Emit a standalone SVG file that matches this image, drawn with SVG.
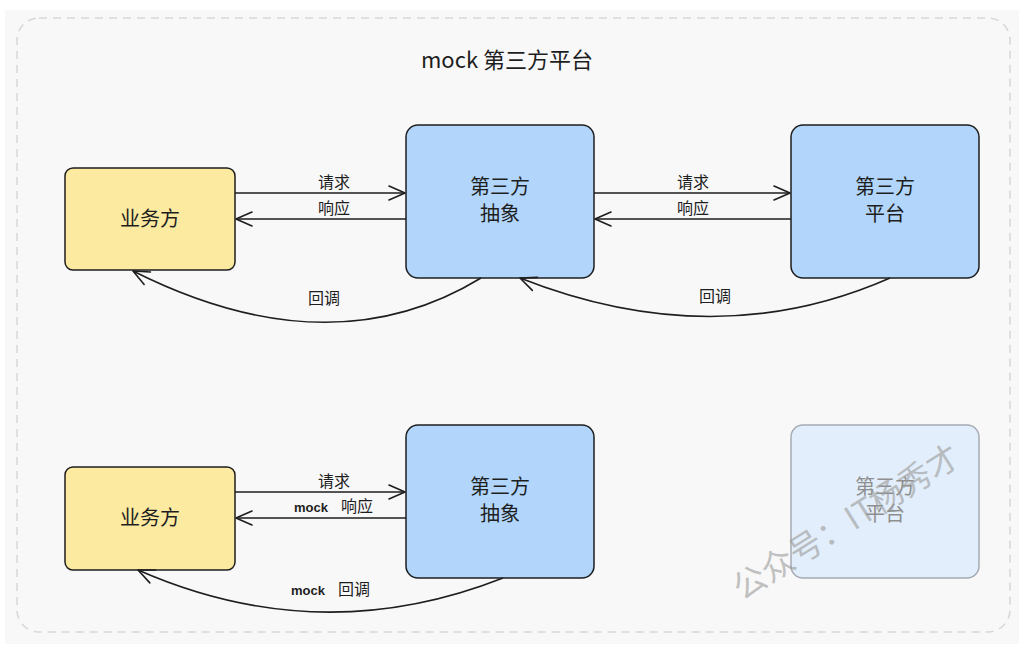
<svg xmlns="http://www.w3.org/2000/svg" width="1024" height="651" viewBox="0 0 1024 651">
<defs>
<marker id="arr" viewBox="0 0 20 20" refX="18" refY="10" markerWidth="20" markerHeight="20" markerUnits="userSpaceOnUse" orient="auto">
<path d="M2,3 L18,10 L2,17" fill="none" stroke="#1e1e1e" stroke-width="1.6" stroke-linecap="round" stroke-linejoin="round"/>
</marker>
</defs>
<style>
text{font-family:"Noto Sans CJK SC","Noto Sans",sans-serif;fill:#1e1e1e;}
.node{font-size:20px;}
.lbl{font-size:16px;}
.mk{font-family:"Liberation Sans",sans-serif;font-weight:bold;font-size:13px;}
.yel{fill:#fceaa1;stroke:#1e1e1e;stroke-width:1.5;}
.blu{fill:#b2d6fb;stroke:#1e1e1e;stroke-width:1.5;}
.faded{fill:#e2eefb;stroke:#a5abb2;stroke-width:1.5;}
.con{fill:none;stroke:#1e1e1e;stroke-width:1.6;marker-end:url(#arr);}
</style>
<rect x="5" y="10" width="1014" height="634" fill="#f8f8f8"/>
<rect id="frame" x="17" y="18" width="993" height="614" rx="22" fill="none" stroke="#d6d6d6" stroke-width="1.5" stroke-dasharray="8 6"/>
<text x="507" y="68" text-anchor="middle" font-size="22">mock 第三方平台</text>

<g id="biz1"><rect class="yel" x="65" y="168" width="170" height="102" rx="8"/><text class="node" x="150" y="226" text-anchor="middle">业务方</text></g>
<g id="abs1"><rect class="blu" x="406" y="125" width="188" height="153" rx="12"/><text class="node" x="500" y="194" text-anchor="middle">第三方</text><text class="node" x="500" y="221" text-anchor="middle">抽象</text></g>
<g id="plat1"><rect class="blu" x="791" y="125" width="188" height="153" rx="12"/><text class="node" x="885" y="194" text-anchor="middle">第三方</text><text class="node" x="885" y="221" text-anchor="middle">平台</text></g>

<g id="biz2"><rect class="yel" x="65" y="467" width="170" height="103" rx="8"/><text class="node" x="150" y="525" text-anchor="middle">业务方</text></g>
<g id="abs2"><rect class="blu" x="406" y="425" width="188" height="153" rx="12"/><text class="node" x="500" y="494" text-anchor="middle">第三方</text><text class="node" x="500" y="521" text-anchor="middle">抽象</text></g>
<g id="plat2"><rect class="faded" x="791" y="425" width="188" height="153" rx="12"/><text class="node" x="885" y="494" text-anchor="middle" style="fill:#8e8e8e">第三方</text><text class="node" x="885" y="521" text-anchor="middle" style="fill:#8e8e8e">平台</text></g>

<g id="connectors">
<path class="con" d="M235,193 L405,193"/>
<path class="con" d="M406,219 L236,219"/>
<path class="con" d="M594,193 L790,193"/>
<path class="con" d="M791,219 L595,219"/>
<path class="con" d="M481,278 Q330,370 133,271"/>
<path class="con" d="M890,278 Q715,355 520,278"/>
<path class="con" d="M235,492 L405,492"/>
<path class="con" d="M406,518 L236,518"/>
<path class="con" d="M503,578 Q320,650 138,570"/>
</g>

<g id="labels">
<text class="lbl" x="334" y="188" text-anchor="middle">请求</text>
<text class="lbl" x="334" y="214" text-anchor="middle">响应</text>
<text class="lbl" x="693" y="188" text-anchor="middle">请求</text>
<text class="lbl" x="693" y="214" text-anchor="middle">响应</text>
<text class="lbl" x="324" y="304" text-anchor="middle">回调</text>
<text class="lbl" x="715" y="302" text-anchor="middle">回调</text>
<text class="lbl" x="334" y="487" text-anchor="middle">请求</text>
<text class="mk" x="294" y="512">mock</text><text class="lbl" x="341" y="512">响应</text>
<text class="mk" x="291" y="595">mock</text><text class="lbl" x="338" y="595">回调</text>
</g>

<text x="742" y="601" font-size="33" transform="rotate(-32 742 601)" style="fill:#9a9a9a;fill-opacity:0.6">公众号：IT杨秀才</text>
</svg>
